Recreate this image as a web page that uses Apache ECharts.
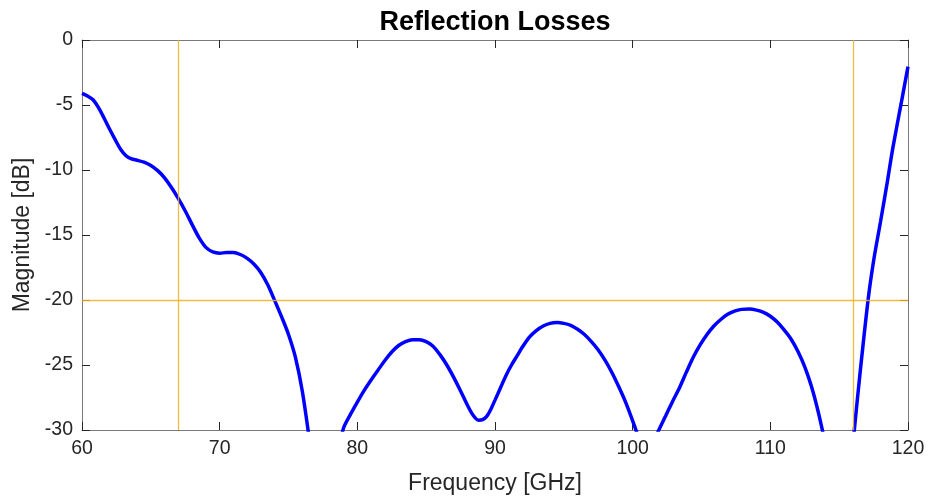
<!DOCTYPE html>
<html>
<head>
<meta charset="utf-8">
<script src="https://cdn.jsdelivr.net/npm/echarts@6/dist/echarts.min.js"></script>
<style>
  html, body { margin: 0; padding: 0; background: #fff; }
  #chart { width: 929px; height: 501px; }
</style>
</head>
<body>
<div id="chart"></div>
<script>
// S11 (GHz, dB); null = notch below -30 dB
const freqs = [
  60, 60.4, 60.8, 61.2, 61.6, 62, 62.4, 62.8, 63.2, 63.6, 64, 64.5, 65, 65.5, 66, 66.5, 67, 67.5, 68, 68.5,
  69, 69.5, 70, 70.5, 71, 71.5, 72, 72.5, 73, 73.5, 74, 74.5, 75, 75.5, 76, 76.5, 76.8,
  77.8,
  78.6, 79, 79.5, 80, 80.5, 81, 81.5, 82, 82.5, 83, 83.5, 84, 84.5, 85, 85.5, 86, 86.5, 87, 87.5, 88,
  88.4, 88.8, 89.1, 89.4, 89.7, 90, 90.4, 90.8, 91.2, 91.6, 92, 92.5, 93, 93.5, 94, 94.5, 95, 95.5,
  96, 96.5, 97, 97.5, 98, 98.5, 99, 99.5, 100, 100.5,
  101,
  101.4, 101.9, 102.4, 102.9, 103.4, 103.9, 104.4, 104.9, 105.4, 105.9, 106.4, 106.9, 107.4, 107.9,
  108.5, 109, 109.5, 110, 110.5, 111, 111.5, 112, 112.5, 113, 113.5, 113.9,
  115,
  115.9, 116.1, 116.5, 117.1, 117.5, 118, 118.5, 118.9, 119.5, 120
];
const mags = [
  -4.1, -4.3, -4.6, -5.2, -6.0, -6.85, -7.65, -8.4, -8.9, -9.15, -9.25, -9.4, -9.65, -10.05, -10.6, -11.35, -12.2, -13.15, -14.2, -15.2,
  -15.95, -16.3, -16.4, -16.35, -16.35, -16.5, -16.8, -17.25, -17.9, -18.85, -20.05, -21.3, -22.65, -24.4, -27.0, -30.6, -33,
  null,
  -31.8, -29.85, -28.8, -27.85, -26.95, -26.15, -25.4, -24.65, -24.0, -23.5, -23.2, -23.05, -23.05, -23.2, -23.55, -24.2, -25.0, -25.95, -27.0, -28.1,
  -28.85, -29.25, -29.2, -28.95, -28.4, -27.7, -26.75, -25.8, -25.0, -24.3, -23.6, -22.85, -22.35, -22.0, -21.8, -21.74, -21.8, -21.95,
  -22.25, -22.65, -23.2, -23.85, -24.65, -25.6, -26.7, -27.9, -29.3, -30.8,
  null,
  -31.2, -30.0, -28.9, -27.8, -26.75, -25.55, -24.4, -23.45, -22.65, -22.0, -21.5, -21.1, -20.85, -20.72,
  -20.69, -20.78, -20.95, -21.25, -21.7, -22.3, -23.0, -23.95, -25.15, -26.7, -28.7, -30.6,
  null,
  -32.1, -30, -25.8, -20.0, -17.0, -14.0, -10.9, -8.3, -4.9, -2.05
];
const limitFreqs = [67, 116];
const limitMag = -20;
const xTicks = [60, 70, 80, 90, 100, 110, 120];
const yTicks = [-30, -25, -20, -15, -10, -5, 0];

const font = "'Liberation Sans', Arial, Helvetica, sans-serif";
const textColor = "#262626";
const frameColor = "#7a7a7a";

let myChart = echarts.init(document.getElementById("chart"));

let curve = freqs.map((f, i) => [f, mags[i] === null ? "-" : mags[i]]);

function xAx(pos, showLabel) {
  return {
    type: "value",
    position: pos,
    min: xTicks[0],
    max: xTicks[xTicks.length - 1],
    interval: 10,
    name: showLabel ? "Frequency [GHz]" : "",
    nameLocation: "middle",
    nameGap: 42,
    nameTextStyle: { fontFamily: font, fontSize: 23, color: textColor },
    axisLine: { show: true, onZero: false, lineStyle: { color: frameColor, width: 1 } },
    axisTick: { show: true, inside: true, length: 8, lineStyle: { color: textColor } },
    axisLabel: { show: showLabel, fontFamily: font, fontSize: 19.5, color: textColor, margin: 9 },
    splitLine: { show: false },
  };
}
function yAx(pos, showLabel) {
  return {
    type: "value",
    position: pos,
    min: yTicks[0],
    max: yTicks[yTicks.length - 1],
    interval: 5,
    name: showLabel ? "Magnitude [dB]" : "",
    nameLocation: "middle",
    nameGap: 46,
    nameTextStyle: { fontFamily: font, fontSize: 23, color: textColor },
    axisLine: { show: true, onZero: false, lineStyle: { color: frameColor, width: 1 } },
    axisTick: { show: true, inside: true, length: 8, lineStyle: { color: textColor } },
    axisLabel: { show: showLabel, fontFamily: font, fontSize: 19.5, color: textColor, margin: 9 },
    splitLine: { show: false },
  };
}

let option = {
  animation: false,
  backgroundColor: "#ffffff",
  title: {
    text: "Reflection Losses",
    left: 490,
    textAlign: "center",
    top: 4,
    textStyle: { fontFamily: font, fontSize: 27, fontWeight: "bold", color: "#000" },
  },
  grid: { left: 82, right: 21, top: 40, bottom: 71, containLabel: false },
  xAxis: [xAx("bottom", true), xAx("top", false)],
  yAxis: [yAx("left", true), yAx("right", false)],
  series: [
    {
      type: "line",
      data: [],
      z: 1,
      markLine: {
        silent: true,
        symbol: "none",
        label: { show: false },
        lineStyle: { color: "#EDB120", width: 1.3, type: "solid", opacity: 0.85 },
        data: limitFreqs.map((f) => ({ xAxis: f })).concat([{ yAxis: limitMag }]),
      },
    },
    {
      type: "line",
      data: curve,
      z: 3,
      smooth: 0.3,
      connectNulls: false,
      showSymbol: false,
      symbol: "none",
      clip: true,
      lineStyle: { color: "#0000ff", width: 3.5 },
    },
  ],
};
myChart.setOption(option);
</script>
</body>
</html>
